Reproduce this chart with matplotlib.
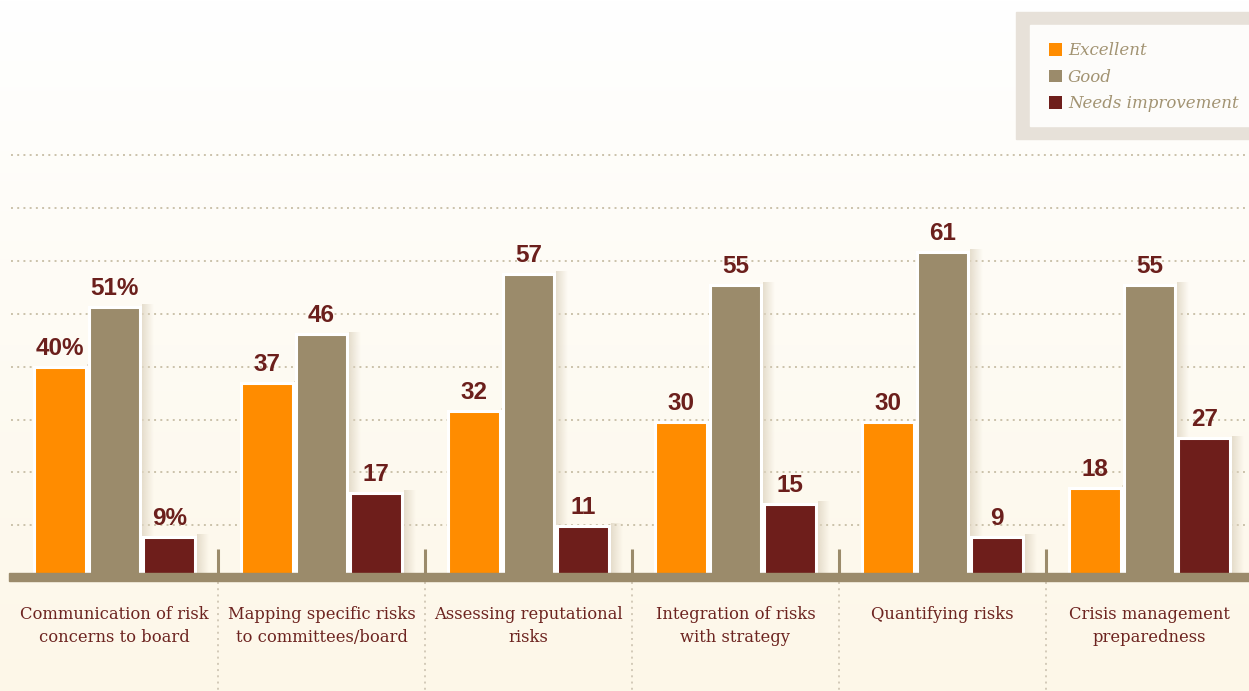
import numpy as np
import matplotlib.pyplot as plt
from matplotlib.patches import Rectangle, Patch

categories = [
    "Communication of risk\nconcerns to board",
    "Mapping specific risks\nto committees/board",
    "Assessing reputational\nrisks",
    "Integration of risks\nwith strategy",
    "Quantifying risks",
    "Crisis management\npreparedness",
]

series_names = ["Excellent", "Good", "Needs improvement"]

excellent = [40, 37, 32, 30, 30, 18]
good = [51, 46, 57, 55, 61, 55]
needs_improvement = [9, 17, 11, 15, 9, 27]

colors = ["#ff8c00", "#9b8b6b", "#6e1e1b"]
label_color = "#6b1f1c"
axis_color = "#9b8b6b"

W, H = 1249, 691
px_x = 207.0      # pixels per category
px_y = 5.48       # pixels per percentage point
ymin = 2.4

fig = plt.figure(figsize=(W / 100, H / 100), dpi=100)

# background gradient
bg = fig.add_axes([0, 0, 1, 1], zorder=-10)
grad = np.linspace(0, 1, 256)[:, None, None]
top = np.array([1.0, 1.0, 1.0])
bottom = np.array([253, 247, 232]) / 255
bg.imshow(top + (bottom - top) * grad, aspect="auto", extent=[0, 1, 0, 1])
bg.axis("off")

ax_left = 11 / W
ax_bottom = (H - 573) / H
ax_top = (H - 140) / H
ax = fig.add_axes([ax_left, ax_bottom, 1 - ax_left, ax_top - ax_bottom])
ax.patch.set_alpha(0)

xmin = -0.5
xmax = xmin + (W - 11) / px_x
ymax = ymin + 433 / px_y

x = np.arange(len(categories))
offsets = [-0.265, 0, 0.265]
bar_w = 0.25
values = [excellent, good, needs_improvement]

shadow = np.zeros((1, 32, 4))
shadow[..., 0] = 222 / 255
shadow[..., 1] = 212 / 255
shadow[..., 2] = 192 / 255
shadow[..., 3] = np.linspace(0.75, 0, 32)

for vals, off, col, name in zip(values, offsets, colors, series_names):

    ax.bar(
        x + off,
        vals,
        width=bar_w,
        color=col,
        edgecolor="white",
        linewidth=2.2,
        zorder=3,
        label=name
    )

    for i, (xi, v) in enumerate(zip(x + off, vals)):

        x0 = xi + bar_w / 2 + 1.5 / px_x
        ax.imshow(
            shadow,
            extent=[x0, x0 + 12 / px_x, ymin, v + 2 / px_y],
            aspect="auto",
            interpolation="bilinear",
            zorder=2
        )

        text = f"{v}%" if i == 0 else str(v)
        ax.annotate(
            text,
            (xi, v),
            xytext=(0, 5),
            textcoords="offset points",
            ha="center",
            va="bottom",
            fontsize=17.5,
            fontweight="bold",
            family="Liberation Sans",
            color=label_color,
            zorder=5
        )

grid_levels = 11.1 + 9.65 * np.arange(8)
for g in grid_levels:
    ax.axhline(g, color="#cbc2ab", lw=1.4, ls=(0, (1, 2.2)), zorder=1)

ax.add_patch(
    Rectangle(
        (-0.002, -8 / 433), 1.002, 8 / 433,
        transform=ax.transAxes,
        color=axis_color,
        clip_on=False,
        zorder=4
    )
)

for s in x[:-1] + 0.5:
    ax.plot([s, s], [ymin, ymin + 24 / px_y],
            color=axis_color, lw=2.2, solid_capstyle="butt", zorder=4)
    ax.plot([s, s], [ymin - 9 / px_y, ymin - 125 / px_y],
            color="#d3cab8", lw=1.4, ls=(0, (1, 2.2)),
            clip_on=False, zorder=1)

ax.set_xticks(
    x,
    categories,
    fontfamily="DejaVu Serif",
    fontsize=11.8,
    color="#6d2420",
    linespacing=1.45
)
ax.tick_params(axis="x", length=0, pad=24)
ax.set_yticks([])

for spine in ax.spines.values():
    spine.set_visible(False)

ax.set_xlim(xmin, xmax)
ax.set_ylim(ymin, ymax)

# legend box
fig.add_artist(
    Rectangle((1016 / W, 1 - 139 / H), (W - 1016) / W, 127 / H,
              transform=fig.transFigure, color="#e7e1d9", zorder=3)
)
fig.add_artist(
    Rectangle((1030 / W, 1 - 126 / H), (W - 1030) / W, 101 / H,
              transform=fig.transFigure, color="#fdfcfa", zorder=3)
)

handles = [Patch(facecolor=c, edgecolor="none") for c in colors]
fig.legend(
    handles,
    series_names,
    loc="upper left",
    bbox_to_anchor=(1049 / W, 1 - 42 / H),
    frameon=False,
    prop=dict(family="DejaVu Serif", style="italic", size=12),
    labelcolor="#a29372",
    handlelength=0.8,
    handleheight=0.8,
    handletextpad=0.33,
    labelspacing=0.58,
    borderpad=0,
    borderaxespad=0
)

fig.savefig("out.png", dpi=100)
